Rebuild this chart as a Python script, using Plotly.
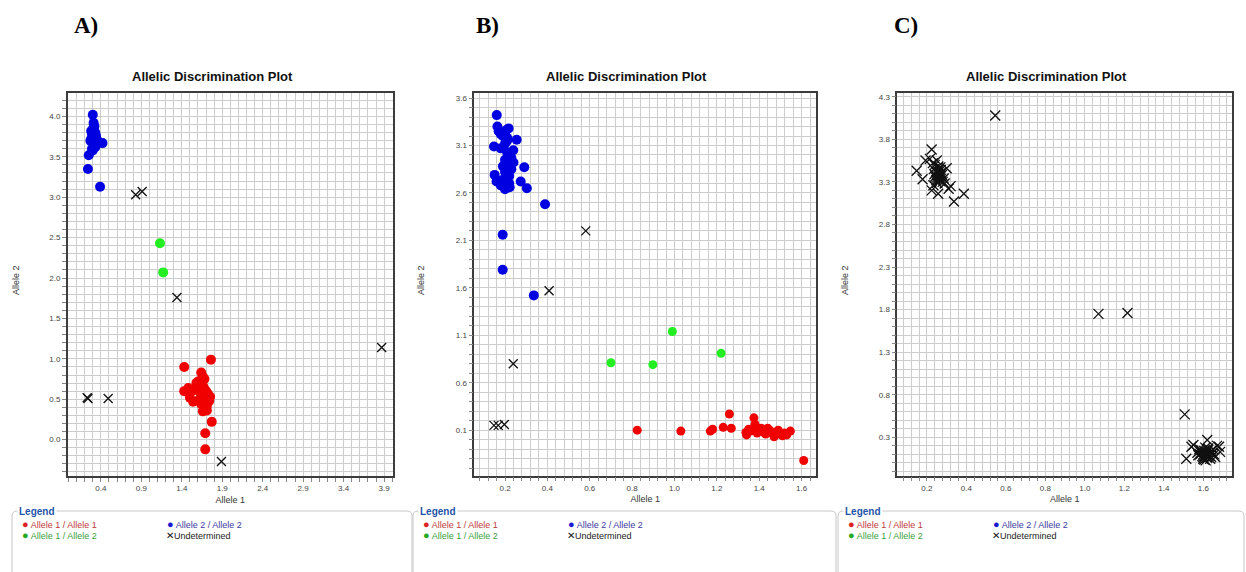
import plotly.graph_objects as go

W, H = 1246, 572

# ---------------- DATA ----------------
# Panel A
a_hom1_x = [1.43,1.76,1.64,1.77,1.69,1.69,1.43,1.48,1.54,1.50,1.54,1.60,1.62,1.66,1.68,1.70,1.72,1.65,1.67,1.71,1.73,1.63,1.69,1.74,1.66,1.70,1.68,1.72,1.64,1.75,1.67,1.71,1.58,1.61]
a_hom1_y = [0.90,0.99,0.83,0.22,0.08,-0.12,0.60,0.64,0.61,0.52,0.47,0.72,0.68,0.78,0.75,0.60,0.55,0.50,0.45,0.42,0.52,0.58,0.38,0.48,0.35,0.40,0.62,0.57,0.44,0.53,0.65,0.36,0.70,0.49]
a_hom2_x = [0.30,0.24,0.25,0.39,0.42,0.31,0.32,0.30,0.33,0.29,0.31,0.28,0.34,0.36,0.30,0.32,0.27,0.33,0.35,0.29,0.31,0.30,0.34,0.28,0.32]
a_hom2_y = [4.02,3.35,3.52,3.13,3.67,3.92,3.88,3.84,3.80,3.78,3.75,3.72,3.73,3.70,3.68,3.65,3.70,3.62,3.66,3.60,3.86,3.58,3.76,3.82,3.69]
a_het_x = [1.13,1.17]
a_het_y = [2.43,2.07]
a_und_x = [0.83,0.91,1.34,3.87,0.23,0.24,0.49,1.89]
a_und_y = [3.03,3.07,1.76,1.14,0.52,0.51,0.51,-0.27]

# Panel B
b_hom1_x = [0.824,1.03,1.169,1.18,1.23,1.259,1.268,1.375,1.61,1.337,1.547,1.49,1.44,1.38,1.34,1.36,1.39,1.40,1.42,1.43,1.45,1.46,1.47,1.48,1.50,1.51,1.52,1.53,1.41,1.37,1.44,1.47,1.50,1.35]
b_hom1_y = [0.10,0.09,0.09,0.11,0.13,0.27,0.12,0.23,-0.22,0.075,0.09,0.10,0.12,0.16,0.05,0.09,0.07,0.11,0.08,0.06,0.10,0.07,0.05,0.08,0.06,0.04,0.07,0.05,0.12,0.10,0.09,0.03,0.06,0.11]
b_hom2_x = [0.161,0.164,0.217,0.205,0.255,0.148,0.239,0.291,0.151,0.160,0.274,0.303,0.200,0.222,0.389,0.189,0.189,0.336,0.18,0.19,0.20,0.21,0.22,0.23,0.19,0.21,0.20,0.22,0.18,0.24,0.21,0.19,0.23,0.20,0.17,0.22,0.18,0.21]
b_hom2_y = [3.42,3.30,3.28,3.26,3.16,3.09,3.05,2.87,2.79,2.72,2.72,2.65,2.64,2.66,2.48,2.16,1.79,1.52,3.22,3.20,3.12,3.15,3.01,2.97,2.88,2.90,2.82,2.78,3.07,2.92,3.18,2.74,2.85,2.95,3.25,2.70,2.68,3.03]
b_het_x = [0.70,0.898,0.99,1.22]
b_het_y = [0.81,0.79,1.14,0.91]
b_und_x = [0.581,0.408,0.239,0.148,0.168,0.197]
b_und_y = [2.20,1.57,0.80,0.15,0.15,0.16]

# Panel C (all undetermined)
c_und_x = [0.546,1.069,1.216,1.506,
           0.224,0.148,0.178,0.193,0.224,0.257,0.337,0.387,0.320,0.300,0.250,0.240,0.235,0.245,0.255,0.262,0.270,0.250,0.258,0.265,0.248,0.272,0.280,0.238,0.255,0.263,0.246,0.268,0.290,0.230,0.252,0.276,0.260,0.242,0.285,0.257,0.266,0.310,0.215,0.233,
           1.514,1.540,1.620,1.680,1.685,1.660,1.550,1.580,1.590,1.600,1.605,1.610,1.615,1.620,1.625,1.630,1.635,1.640,1.600,1.610,1.620,1.595,1.605,1.615,1.625,1.635,1.585,1.645,1.650,1.570,1.600,1.612,1.628,1.640,1.590,1.655,1.670,1.575]
c_und_y = [4.08,1.75,1.76,0.57,
           3.68,3.43,3.33,3.55,3.20,3.16,3.07,3.16,3.25,3.46,3.55,3.50,3.45,3.42,3.40,3.38,3.44,3.35,3.48,3.36,3.32,3.41,3.30,3.39,3.43,3.33,3.37,3.47,3.28,3.52,3.29,3.38,3.45,3.36,3.34,3.41,3.31,3.22,3.57,3.26,
           0.05,0.19,0.27,0.19,0.13,0.07,0.21,0.16,0.12,0.10,0.14,0.08,0.11,0.06,0.15,0.09,0.12,0.07,0.05,0.18,0.13,0.08,0.04,0.10,0.17,0.05,0.10,0.11,0.16,0.12,0.07,0.03,0.09,0.14,0.15,0.10,0.20,0.09]

# Axis ticks
a_xticks = [0.4, 0.9, 1.4, 1.9, 2.4, 2.9, 3.4, 3.9]
a_yticks = [0.0, 0.5, 1.0, 1.5, 2.0, 2.5, 3.0, 3.5, 4.0]
b_xticks = [0.2, 0.4, 0.6, 0.8, 1.0, 1.2, 1.4, 1.6]
b_yticks = [0.1, 0.6, 1.1, 1.6, 2.1, 2.6, 3.1, 3.6]
c_xticks = [0.2, 0.4, 0.6, 0.8, 1.0, 1.2, 1.4, 1.6]
c_yticks = [0.3, 0.8, 1.3, 1.8, 2.3, 2.8, 3.3, 3.8, 4.3]

legend_labels = ["Allele 1 / Allele 1", "Allele 2 / Allele 2", "Allele 1 / Allele 2", "Undetermined"]
panel_letters = ["A)", "B)", "C)"]
title_text = "Allelic Discrimination Plot"

# ---------------- STYLE / LAYOUT ----------------
RED, BLUE, GREEN = "#f00000", "#0000e0", "#22ee22"

panels = [
    dict(px=(67.7, 393.0), py=(93.0, 476.0), xr=[-0.01, 4.01], yr=[-0.45, 4.29],
         xt=a_xticks, yt=a_yticks, xminor=0.1, yminor=0.1, xfmt=".1f", yfmt=".1f",
         title_cx=212, letter_x=86, yt_x=16, leg=(12, 412)),
    dict(px=(474.3, 816.0), py=(93.3, 475.7), xr=[0.055, 1.668], yr=[-0.38, 3.65],
         xt=b_xticks, yt=b_yticks, xminor=0.04, yminor=0.1, xfmt=".1f", yfmt=".1f",
         title_cx=626, letter_x=487, yt_x=421, leg=(413, 836)),
    dict(px=(897.3, 1232.3), py=(93.3, 475.7), xr=[0.05, 1.747], yr=[-0.15, 4.34],
         xt=c_xticks, yt=c_yticks, xminor=0.04, yminor=0.1, xfmt=".1f", yfmt=".1f",
         title_cx=1046, letter_x=906, yt_x=845, leg=(838, 1244)),
]

fig = go.Figure()

def add_dots(x, y, color, i, size=9):
    sfx = "" if i == 0 else str(i + 1)
    fig.add_trace(go.Scatter(x=x, y=y, mode="markers", xaxis="x" + sfx, yaxis="y" + sfx,
                             marker=dict(color=color, size=size, line=dict(width=0)),
                             showlegend=False, hoverinfo="x+y"))

def add_x(x, y, i, size=8, lw=1.3):
    sfx = "" if i == 0 else str(i + 1)
    fig.add_trace(go.Scatter(x=x, y=y, mode="markers", xaxis="x" + sfx, yaxis="y" + sfx,
                             marker=dict(symbol="x-thin", size=size, line=dict(width=lw, color="#111111")),
                             showlegend=False, hoverinfo="x+y"))

add_dots(a_hom2_x, a_hom2_y, BLUE, 0, size=10)
add_dots(a_hom1_x, a_hom1_y, RED, 0, size=10)
add_dots(a_het_x, a_het_y, GREEN, 0, size=10)
add_x(a_und_x, a_und_y, 0, size=9)

add_dots(b_hom2_x, b_hom2_y, BLUE, 1, size=10)
add_dots(b_hom1_x, b_hom1_y, RED, 1, size=9)
add_dots(b_het_x, b_het_y, GREEN, 1, size=9)
add_x(b_und_x, b_und_y, 1, size=9)

add_x(c_und_x, c_und_y, 2, size=10, lw=1.3)

layout = dict(width=W, height=H, margin=dict(l=0, r=0, t=0, b=0),
              paper_bgcolor="white", plot_bgcolor="white", template="none",
              font=dict(family="Liberation Sans, Arial, sans-serif", color="#333333"),
              showlegend=False)

annotations = []
shapes = []
GRID = "#cdcdcd"
for i, p in enumerate(panels):
    sfx = "" if i == 0 else str(i + 1)
    xd = [p["px"][0] / W, p["px"][1] / W]
    yd = [1 - p["py"][1] / H, 1 - p["py"][0] / H]
    common = dict(showline=True, linecolor="#3c3c3c", linewidth=1.5, mirror=True,
                  showgrid=True, gridcolor=GRID, gridwidth=1, zeroline=False,
                  ticks="outside", ticklen=4, tickcolor="#888888", tickwidth=1,
                  tickfont=dict(size=8, color="#444444"), automargin=False, fixedrange=True)
    layout["xaxis" + sfx] = dict(common, domain=xd, range=p["xr"], anchor="y" + sfx,
                                 tickmode="array", tickvals=p["xt"],
                                 ticktext=[format(v, p["xfmt"]) for v in p["xt"]],
                                 minor=dict(dtick=p["xminor"], tick0=0, showgrid=True, gridcolor=GRID,
                                            gridwidth=1, ticks="outside", ticklen=4, tickcolor="#888888"),
                                 title=dict(text="Allele 1", font=dict(size=9, color="#333333"), standoff=4))
    layout["yaxis" + sfx] = dict(common, domain=yd, range=p["yr"], anchor="x" + sfx,
                                 tickmode="array", tickvals=p["yt"],
                                 ticktext=[format(v, p["yfmt"]) for v in p["yt"]],
                                 minor=dict(dtick=p["yminor"], tick0=0, showgrid=True, gridcolor=GRID,
                                            gridwidth=1, ticks="outside", ticklen=4, tickcolor="#888888"),
                                 title=dict(text=""))
    # y-axis title placed explicitly
    annotations.append(dict(text="Allele 2", xref="paper", yref="paper",
                            x=p["yt_x"] / W, y=1 - 280 / H, xanchor="center", yanchor="middle",
                            showarrow=False, textangle=-90,
                            font=dict(size=9, color="#333333")))
    # chart title
    annotations.append(dict(text="<b>" + title_text + "</b>", xref="paper", yref="paper",
                            x=p["title_cx"] / W, y=1 - 77 / H, xanchor="center", yanchor="middle",
                            showarrow=False,
                            font=dict(size=13, color="#111111", family="Liberation Sans, Arial")))
    # panel letter
    annotations.append(dict(text="<b>" + panel_letters[i] + "</b>", xref="paper", yref="paper",
                            x=p["letter_x"] / W, y=1 - 25 / H, xanchor="center", yanchor="middle",
                            showarrow=False,
                            font=dict(size=23, color="#000000", family="Liberation Serif, Times New Roman")))
    # legend box
    l0, l1 = p["leg"]
    t = 511
    r = 5
    path = (f"M {l0/W} {1-(H+5)/H} L {l0/W} {1-(t+r)/H} Q {l0/W} {1-t/H} {(l0+r)/W} {1-t/H} "
            f"L {(l1-r)/W} {1-t/H} Q {l1/W} {1-t/H} {l1/W} {1-(t+r)/H} L {l1/W} {1-(H+5)/H}")
    shapes.append(dict(type="path", xref="paper", yref="paper", path=path,
                       line=dict(color="#c8c8c8", width=1)))
    annotations.append(dict(text="<b>Legend</b>", xref="paper", yref="paper",
                            x=(l0 + 5) / W, y=1 - t / H, xanchor="left", yanchor="middle",
                            showarrow=False, bgcolor="white", borderpad=1,
                            font=dict(size=10, color="#1f55a8")))
    items = [
        (legend_labels[0], "#dd2222", "#c03a3a", l0 + 8, 524, "●"),
        (legend_labels[1], "#1a1ad0", "#3a3aa0", l0 + 153, 524, "●"),
        (legend_labels[2], "#22aa22", "#3aa03a", l0 + 8, 535, "●"),
        (legend_labels[3], "#111111", "#222222", l0 + 152, 535, "✕"),
    ]
    for lab, mcol, tcol, lx, ly, sym in items:
        symsize = 11 if sym == "●" else 10
        txt = f"<span style='color:{mcol};font-size:{symsize}px'>{sym}</span>" \
              f"<span style='color:{tcol}'>{' ' if sym == '●' else ''}{lab}</span>"
        annotations.append(dict(text=txt, xref="paper", yref="paper", x=lx / W, y=1 - ly / H,
                                xanchor="left", yanchor="middle", showarrow=False,
                                font=dict(size=9, color=tcol)))

layout["annotations"] = annotations
layout["shapes"] = shapes
fig.update_layout(**layout)
fig.write_html("out.html")
